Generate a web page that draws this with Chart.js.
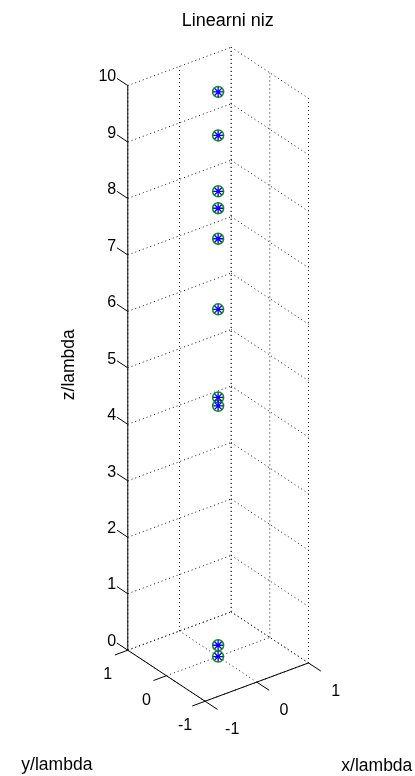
<!DOCTYPE html>
<html>
<head>
<meta charset="utf-8">
<title>Linearni niz</title>
<script src="https://cdn.jsdelivr.net/npm/chart.js@4/dist/chart.umd.min.js"></script>
<style>
  html,body{margin:0;padding:0;background:#fff;}
  #wrap{position:relative;width:415px;height:776px;}
</style>
</head>
<body>
<div id="wrap"><canvas id="c"></canvas></div>
<script>
// element positions (in wavelengths) - linear array along z
const elemX = [0, 0, 0, 0, 0, 0, 0, 0, 0, 0];
const elemY = [0, 0, 0, 0, 0, 0, 0, 0, 0, 0];
const elemZ = [10.0, 9.23, 8.24, 7.94, 7.40, 6.15, 4.59, 4.44, 0.20, 0.00];

const xTicks = [-1, 0, 1];
const yTicks = [-1, 0, 1];
const zTicks = [0, 1, 2, 3, 4, 5, 6, 7, 8, 9, 10];

const TITLE = 'Linearni niz';
const X_LABEL = 'x/lambda', Y_LABEL = 'y/lambda', Z_LABEL = 'z/lambda';

// view projection (view units per data unit, y up)
const EX = [53.5, 19.5], EY = [-40, 26], EZ = [0, 57.5];
const proj = (x,y,z)=>({ x: EX[0]*x + EY[0]*y + EZ[0]*z, y: EX[1]*x + EY[1]*y + EZ[1]*z });

const xMin=Math.min(...xTicks), xMax=Math.max(...xTicks);
const yMin=Math.min(...yTicks), yMax=Math.max(...yTicks);
const zMin=Math.min(...zTicks), zMax=Math.max(...zTicks);

const GRID='#1a1a1a';
const seg = (a,b,dashed)=>({
  type:'line', data:[proj(...a), proj(...b)], borderColor:dashed?GRID:'#000',
  borderWidth:1, borderDash:dashed?[1,3]:[], pointRadius:0, fill:false, tension:0,
  order:dashed?4:2, clip:false
});

const datasets=[];
// back wall y = yMax
zTicks.forEach(z=>datasets.push(seg([xMin,yMax,z],[xMax,yMax,z],true)));
xTicks.forEach(x=>datasets.push(seg([x,yMax,zMin],[x,yMax,zMax],true)));
// back wall x = xMax
zTicks.forEach(z=>datasets.push(seg([xMax,yMax,z],[xMax,yMin,z],true)));
yTicks.forEach(y=>datasets.push(seg([xMax,y,zMin],[xMax,y,zMax],true)));
// floor
xTicks.forEach(x=>datasets.push(seg([x,yMin,zMin],[x,yMax,zMin],true)));
yTicks.forEach(y=>datasets.push(seg([xMin,y,zMin],[xMax,y,zMin],true)));

// axes + ticks
datasets.push(seg([xMin,yMax,zMin],[xMin,yMax,zMax]));
datasets.push(seg([xMin,yMax,zMin],[xMin,yMin,zMin]));
datasets.push(seg([xMin,yMin,zMin],[xMax,yMin,zMin]));
zTicks.forEach(z=>datasets.push(seg([xMin,yMax,z],[xMin,yMax+0.28,z])));
yTicks.forEach(y=>datasets.push(seg([xMin,y,zMin],[xMin-0.25,y,zMin])));
xTicks.forEach(x=>datasets.push(seg([x,yMin,zMin],[x,yMin-0.32,zMin])));

const pts = elemZ.map((z,i)=>proj(elemX[i], elemY[i], z));
datasets.push({type:'scatter', data:pts, pointStyle:'circle', pointRadius:5.5,
  borderColor:'#168c16', backgroundColor:'rgba(0,0,0,0)', borderWidth:1.5, order:1, clip:false});
datasets.push({type:'scatter', data:pts, pointStyle:'star', pointRadius:5,
  borderColor:'#0000ff', backgroundColor:'#0000ff', borderWidth:1.3, order:0, clip:false});

const labels3d = {
  id:'labels3d',
  afterDraw(chart){
    const ctx=chart.ctx, sx=chart.scales.x, sy=chart.scales.y;
    const px=(p)=>[sx.getPixelForValue(p.x), sy.getPixelForValue(p.y)];
    ctx.save();
    ctx.fillStyle='#000';
    ctx.font='16px "Liberation Sans", Arial, sans-serif';
    // z ticks
    ctx.textAlign='right'; ctx.textBaseline='middle';
    zTicks.forEach(z=>{ const [u,v]=px(proj(xMin,yMax+0.3,z)); ctx.fillText(String(z), u, v-1); });
    // y ticks
    ctx.textAlign='center';
    yTicks.forEach(y=>{ const [u,v]=px(proj(xMin-0.35,y,zMin)); ctx.fillText(String(y), u-2, v+18); });
    // x ticks
    xTicks.forEach(x=>{ const [u,v]=px(proj(x,yMin-0.65,zMin)); ctx.fillText(String(x), u+2, v+12); });

    const W=chart.width, H=chart.height;
    ctx.font='17.5px "Liberation Sans", Arial, sans-serif';
    ctx.fillText(Y_LABEL, W*0.137, H*0.986);
    ctx.fillText(X_LABEL, W*0.908, H*0.987);
    ctx.save();
    ctx.translate(W*0.166, H*0.47); ctx.rotate(-Math.PI/2);
    ctx.fillText(Z_LABEL, 0, 0);
    ctx.restore();
    ctx.font='18px "Liberation Sans", Arial, sans-serif';
    ctx.fillText(TITLE, W*0.549, H*0.027);
    ctx.restore();
  }
};

new Chart(document.getElementById('c'), {
  type:'scatter',
  data:{datasets},
  options:{
    responsive:true, maintainAspectRatio:false, animation:false,
    layout:{padding:0},
    plugins:{legend:{display:false}, tooltip:{enabled:false}, title:{display:false}},
    scales:{
      x:{type:'linear', min:-218.5, max:196.5, display:false},
      y:{type:'linear', min:-114.5, max:661.5, display:false}
    }
  },
  plugins:[labels3d]
});
</script>
</body>
</html>
